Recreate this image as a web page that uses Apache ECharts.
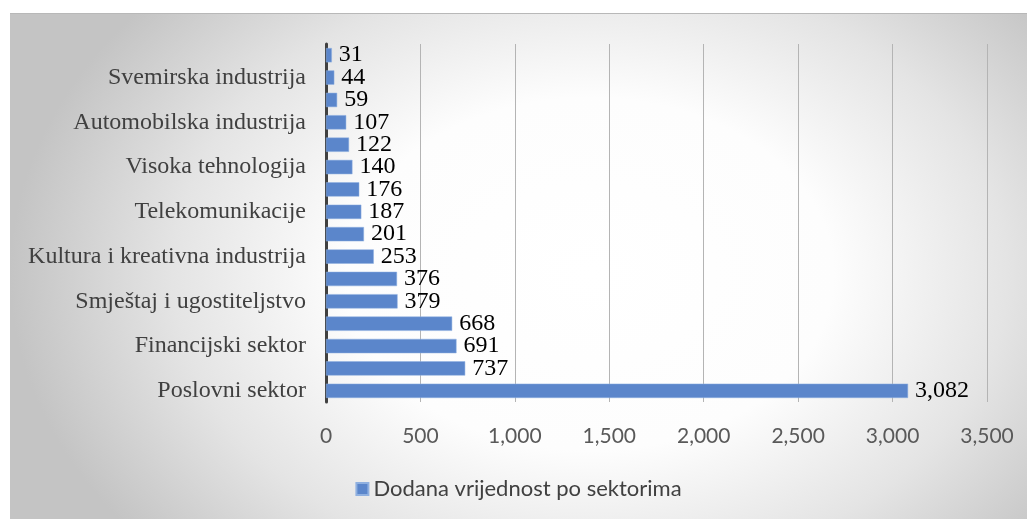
<!DOCTYPE html>
<html>
<head>
<meta charset="utf-8">
<script src="https://cdn.jsdelivr.net/npm/echarts@6/dist/echarts.min.js"></script>
<style>
  html, body { margin: 0; padding: 0; background: #fff; }
  #chart {
    position: absolute;
    left: 10px;
    top: 13px;
    width: 1017px;
    height: 506px;
    border-top: 1px solid #b8b8b8;
    box-sizing: border-box;
    background: radial-gradient(ellipse 580px 420px at 580px 260px, #ffffff 0%, #fdfdfd 42%, #e4e4e4 72%, #c4c4c4 100%);
  }
</style>
</head>
<body>
<div id="chart"></div>
<script>
// bottom -> top; only every other sector name is printed on the axis
const sectors = [
  "Poslovni sektor", "Sektor 2",
  "Financijski sektor", "Sektor 4",
  "Smještaj i ugostiteljstvo", "Sektor 6",
  "Kultura i kreativna industrija", "Sektor 8",
  "Telekomunikacije", "Sektor 10",
  "Visoka tehnologija", "Sektor 12",
  "Automobilska industrija", "Sektor 14",
  "Svemirska industrija", "Sektor 16",
];
const values = [3082, 737, 691, 668, 379, 376, 253, 201, 187, 176, 140, 122, 107, 59, 44, 31];
const seriesName = "Dodana vrijednost po sektorima";

const myChart = echarts.init(document.getElementById("chart"));
myChart.setOption({
  animation: false,
  grid: { left: 316, right: 40, top: 30, bottom: 117 },
  legend: {
    bottom: 14,
    left: "center",
    icon: "rect",
    itemWidth: 12,
    itemHeight: 12,
    itemGap: 6,
    textStyle: { fontFamily: "Lato", fontSize: 22, color: "#404040" },
    data: [seriesName],
  },
  xAxis: {
    type: "value",
    min: 0,
    max: 3500,
    interval: 500,
    axisLine: { show: false },
    axisTick: { show: false },
    splitLine: { lineStyle: { color: "#b4b4b4", width: 1 } },
    axisLabel: {
      margin: 24,
      fontFamily: "Lato",
      fontSize: 21,
      color: "#595959",
      formatter: (v) => v.toLocaleString("en-US"),
    },
  },
  yAxis: {
    type: "category",
    data: sectors,
    axisLine: { lineStyle: { color: "#404040", width: 3 } },
    axisTick: { show: false },
    axisLabel: {
      interval: 1,
      margin: 20,
      fontFamily: "Liberation Serif",
      fontSize: 24,
      color: "#404040",
    },
  },
  series: [
    {
      name: seriesName,
      type: "bar",
      data: values,
      barCategoryGap: "36%",
      itemStyle: { color: "#5b86cb", borderColor: "#8fb0e0", borderWidth: 0.5 },
      label: {
        show: true,
        position: "right",
        distance: 7,
        fontFamily: "Liberation Serif",
        fontSize: 24,
        color: "#000",
        formatter: (p) => p.value.toLocaleString("en-US"),
      },
    },
  ],
});
</script>
</body>
</html>
